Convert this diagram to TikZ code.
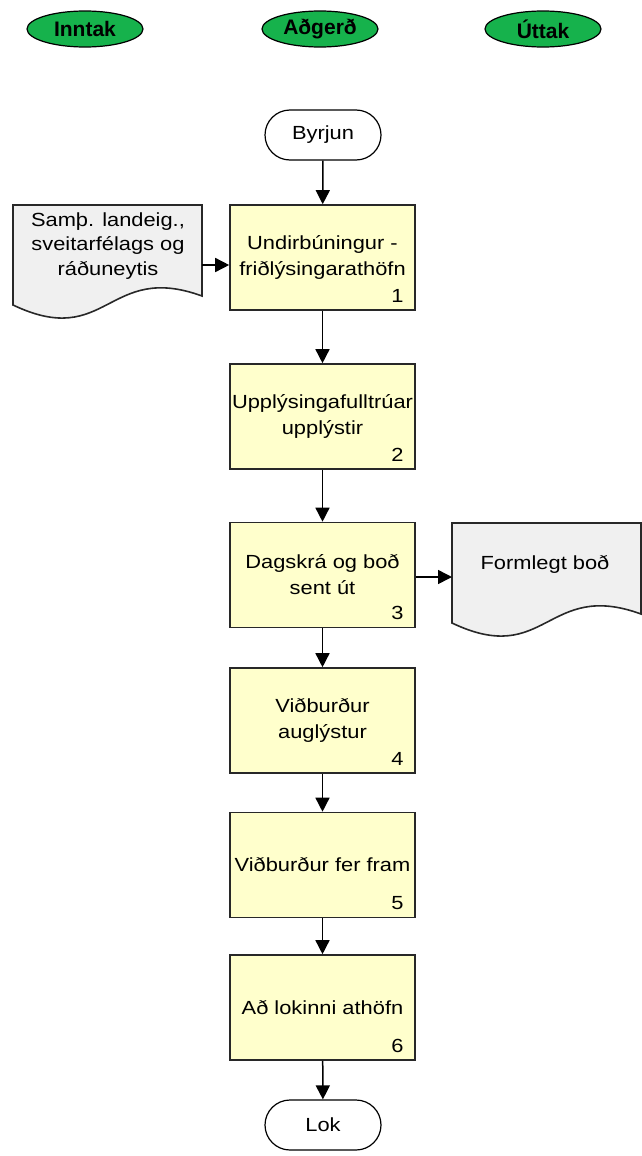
\documentclass[tikz,border=0pt]{standalone}
\usepackage{fontspec}
\setmainfont{Liberation Sans}
\newfontfamily\bodyfont{Liberation Sans}[FakeStretch=1.15]
\usetikzlibrary{shapes.geometric,shapes.misc,arrows.meta,calc}
\definecolor{hdrgreen}{RGB}{22,178,76}
\definecolor{boxyellow}{RGB}{255,255,204}
\definecolor{docgrey}{RGB}{240,240,240}
\definecolor{edgegrey}{RGB}{40,40,40}
\tikzset{
  hdr/.style={ellipse, draw=black, line width=1.2pt, fill=hdrgreen, minimum width=116pt, minimum height=36pt, inner sep=0pt, font=\fontsize{21}{24}\selectfont\bfseries},
  term/.style={rounded rectangle, draw=black, line width=1.2pt, fill=white, minimum width=116pt, minimum height=50pt, inner sep=0pt, font=\bodyfont\fontsize{19}{26}\selectfont},
  stepbox/.style={rectangle, draw=edgegrey, line width=1.6pt, fill=boxyellow, minimum width=185pt, minimum height=105pt, inner sep=0pt, align=center, font=\bodyfont\fontsize{19}{26}\selectfont},
  numlabel/.style={anchor=south east, inner sep=0pt, font=\bodyfont\fontsize{19}{26}\selectfont},
  doctext/.style={align=center, inner sep=0pt, font=\bodyfont\fontsize{19}{24.5}\selectfont},
  docshape/.style={draw=edgegrey, line width=1.6pt, fill=docgrey},
  flow/.style={draw=black, line width=1.5pt, -{Triangle[width=14pt,length=14pt]}}
}
\begin{document}
\begin{tikzpicture}[x=1pt,y=-1pt]
\useasboundingbox (0,0) rectangle (642,1156);
% headers
\node[hdr] (inntak) at (85,29) {Inntak};
\node[hdr] (adgerd) at (320,29) {Aðgerð};
\node[hdr] (uttak) at (543,29) {Úttak};
% terminators
\node[term] (start) at (323,135) {Byrjun};
\node[term] (lok) at (323,1125) {Lok};
% process boxes
\node[stepbox] (b1) at (322.5,257.5) {Undirbúningur -\\friðlýsingarathöfn};
\node[stepbox] (b2) at (322.5,416.5) {Upplýsingafulltrúar\\upplýstir};
\node[stepbox] (b3) at (322.5,575) {Dagskrá og boð\\sent út};
\node[stepbox] (b4) at (322.5,720.5) {Viðburður\\auglýstur};
\node[stepbox] (b5) at (322.5,865) {Viðburður fer fram};
\node[stepbox] (b6) at (322.5,1007.5) {Að lokinni athöfn};
% numbers
\node[numlabel] (n1) at ($(b1.south east)+(-12,-8)$) {1};
\node[numlabel] (n2) at ($(b2.south east)+(-12,-8)$) {2};
\node[numlabel] (n3) at ($(b3.south east)+(-12,-8)$) {3};
\node[numlabel] (n4) at ($(b4.south east)+(-12,-8)$) {4};
\node[numlabel] (n5) at ($(b5.south east)+(-12,-8)$) {5};
\node[numlabel] (n6) at ($(b6.south east)+(-12,-8)$) {6};
% documents
\path[docshape] (13,205) -- (202,205) -- (202,296) .. controls (107.5,261.5) and (107.5,350) .. (13,305) -- cycle;
\node[doctext] (ldoc) at (108,246) {Samþ. landeig.,\\sveitarfélags og\\ráðuneytis};
\coordinate (ldocE) at (202,265);
\path[docshape] (452,523) -- (641,523) -- (641,614) .. controls (546.5,579.5) and (546.5,668) .. (452,623) -- cycle;
\node[doctext] (rdoc) at (545,564) {Formlegt boð};
\coordinate (rdocW) at (452,577);
% connectors
\draw[flow] (start) -- (b1);
\draw[flow] (b1) -- (b2);
\draw[flow] (b2) -- (b3);
\draw[flow] (b3) -- (b4);
\draw[flow] (b4) -- (b5);
\draw[flow] (b5) -- (b6);
\draw[flow] (b6) -- (lok);
\draw[flow] (ldocE) -- (b1.west |- ldocE);
\draw[flow] (b3.east |- rdocW) -- (rdocW);
\end{tikzpicture}
\end{document}
